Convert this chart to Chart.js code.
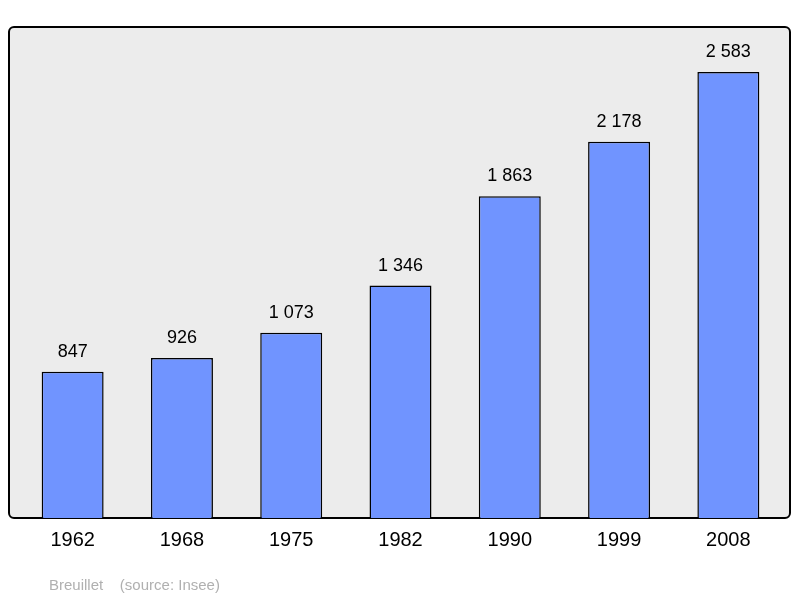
<!DOCTYPE html>
<html>
<head>
<meta charset="utf-8">
<script src="https://cdn.jsdelivr.net/npm/chart.js@4"></script>
<style>
  body { margin: 0; background: #fff; }
  #wrap { width: 800px; height: 598px; position: relative; }
</style>
</head>
<body>
<div id="wrap"><canvas id="chart"></canvas></div>
<script>
const years = ['1962', '1968', '1975', '1982', '1990', '1999', '2008'];
const population = [847, 926, 1073, 1346, 1863, 2178, 2583];
const footer = 'Breuillet    (source: Insee)';

const fmt = v => String(v).replace(/\B(?=(\d{3})+(?!\d))/g, ' ');

// gray panel behind the bars, value labels above, footer text
const panelPlugin = {
    id: 'panel',
    beforeDraw(chart) {
        const ctx = chart.ctx;
        const a = chart.chartArea;
        ctx.save();
        ctx.beginPath();
        ctx.roundRect(9, a.top, 781, a.bottom - a.top, 5);
        ctx.fillStyle = '#ececec';
        ctx.fill();
        ctx.lineWidth = 2;
        ctx.strokeStyle = '#000';
        ctx.stroke();
        ctx.restore();
    },
    afterDraw(chart) {
        const ctx = chart.ctx;
        const meta = chart.getDatasetMeta(0);
        ctx.save();
        ctx.font = '18px "Liberation Sans", Arial, sans-serif';
        ctx.fillStyle = '#000';
        ctx.textAlign = 'center';
        ctx.textBaseline = 'alphabetic';
        meta.data.forEach((bar, i) => {
            ctx.fillText(fmt(population[i]), bar.x, bar.y - 15);
        });
        ctx.font = '15px "Liberation Sans", Arial, sans-serif';
        ctx.fillStyle = '#b0b0b0';
        ctx.textAlign = 'left';
        ctx.fillText(footer, 49, 590);
        ctx.restore();
    }
};

new Chart(document.getElementById('chart').getContext('2d'), {
    type: 'bar',
    data: {
        labels: years,
        datasets: [{
            data: population,
            backgroundColor: '#7094ff',
            borderColor: '#000',
            borderWidth: 1.5,
            borderSkipped: 'bottom',
            barPercentage: 0.567,
            categoryPercentage: 1
        }]
    },
    options: {
        responsive: true,
        maintainAspectRatio: false,
        animation: false,
        layout: { padding: { left: 18, right: 17, top: 27, bottom: 36 } },
        scales: {
            x: {
                grid: { display: false, drawTicks: false },
                border: { display: false },
                ticks: {
                    color: '#000',
                    padding: 10,
                    font: { size: 20, family: '"Liberation Sans", Arial, sans-serif' }
                }
            },
            y: { display: false, min: 0, max: 2843 }
        },
        plugins: {
            legend: { display: false },
            tooltip: { enabled: false }
        }
    },
    plugins: [panelPlugin]
});
</script>
</body>
</html>
